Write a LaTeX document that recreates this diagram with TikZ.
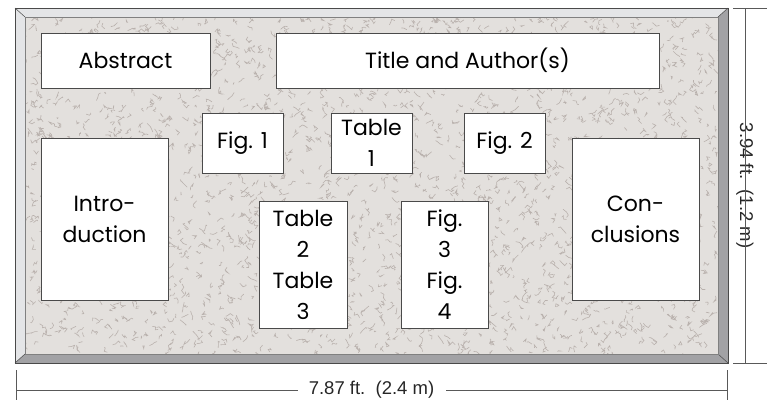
\documentclass[tikz,border=0pt]{standalone}
\usepackage{fontspec}
\setmainfont{Poppins}
\newfontfamily\dimfont{Liberation Sans}
\definecolor{texbg}{HTML}{E3E0DD}
\definecolor{speckc}{HTML}{B9B1AD}
\definecolor{bevlight}{HTML}{E4E5E7}
\definecolor{bevdark}{HTML}{A2A2A5}
\definecolor{edge}{HTML}{4A4A4A}
\tikzset{
  card/.style={draw=edge, line width=0.9pt, fill=white, inner sep=0pt, align=center,
    font=\fontsize{22}{31}\selectfont},
  dimline/.style={draw=black!65, line width=0.8pt},
  dimtext/.style={font=\dimfont\fontsize{18.5}{20}\selectfont, inner sep=0pt, text=black!85},
  speck/.style={draw=speckc, line width=0.6pt},
}
\begin{document}
\begin{tikzpicture}[x=1pt,y=-1pt]
\useasboundingbox (0,0) rectangle (767,400);
% frame bevel
\fill[bevlight] (15,8) -- (728,8) -- (718,17) -- (25,17) -- (25,354) -- (15,363) -- cycle;
\fill[bevdark] (728,8) -- (728,363) -- (15,363) -- (25,354) -- (718,354) -- (718,17) -- cycle;
% texture
\begin{scope}
\clip (25,17) rectangle (718,354);
\fill[texbg] (25,17) rectangle (718,354);
\pgfmathsetseed{11}
\foreach \i in {1,...,2600} {
  \pgfmathsetmacro\xa{25+693*rnd}
  \pgfmathsetmacro\ya{17+337*rnd}
  \draw[speck] (\xa,\ya) -- ++(rand*3.5,rand*3.5) -- ++(rand*3.5,rand*3.5) -- ++(rand*3.5,rand*3.5);
}
\end{scope}
\draw[edge, line width=0.7pt] (15,8) rectangle (728,363);
\draw[edge, line width=0.5pt] (15,8) -- (25,17) (728,8) -- (718,17) (15,363) -- (25,354) (728,363) -- (718,354);
\draw[edge!70, line width=0.6pt] (25,17) rectangle (718,354);
% cards
\node[card, minimum width=169pt, minimum height=55pt] (abs) at (125.5,60.5) {Abstract};
\node[card, minimum width=383pt, minimum height=55pt] (title) at (467.5,60.5) {Title and Author(s)};
\node[card, minimum width=81pt, minimum height=60pt] (f1) at (242.5,143) {Fig. 1};
\node[card, minimum width=81pt, minimum height=60pt] (t1) at (371.5,143) {Table\\1};
\node[card, minimum width=81pt, minimum height=60pt] (f2) at (504.5,143) {Fig. 2};
\node[card, minimum width=88pt, minimum height=127pt] (t23) at (303,264.5) {Table\\2\\Table\\3};
\node[card, minimum width=87pt, minimum height=127pt] (f34) at (444.5,264.5) {Fig.\\3\\Fig.\\4};
\node[card, minimum width=127pt, minimum height=162pt] (intro) at (104.5,219) {Intro-\\duction};
\node[card, minimum width=127pt, minimum height=162pt] (concl) at (635.5,219) {Con-\\clusions};
% dimensions
\coordinate (bl) at (16,390);
\coordinate (br) at (727,390);
\draw[dimline] (16,370) -- (16,400) (727,370) -- (727,400);
\node[dimtext] (wd) at (371.5,390) {7.87 ft.\ \ (2.4 m)};
\draw[dimline] (bl) -- ([xshift=-11pt]wd.west) ([xshift=12pt]wd.east) -- (br);
\coordinate (rt) at (745,8);
\coordinate (rb) at (745,363);
\draw[dimline] (733,8) -- (767,8) (733,363) -- (767,363);
\node[dimtext, rotate=-90] (ht) at (745,185.5) {3.94 ft.\ \ (1.2 m)};
\draw[dimline] (rt) -- ([yshift=-9pt]ht.east) ([yshift=9pt]ht.west) -- (rb);
\end{tikzpicture}
\end{document}
